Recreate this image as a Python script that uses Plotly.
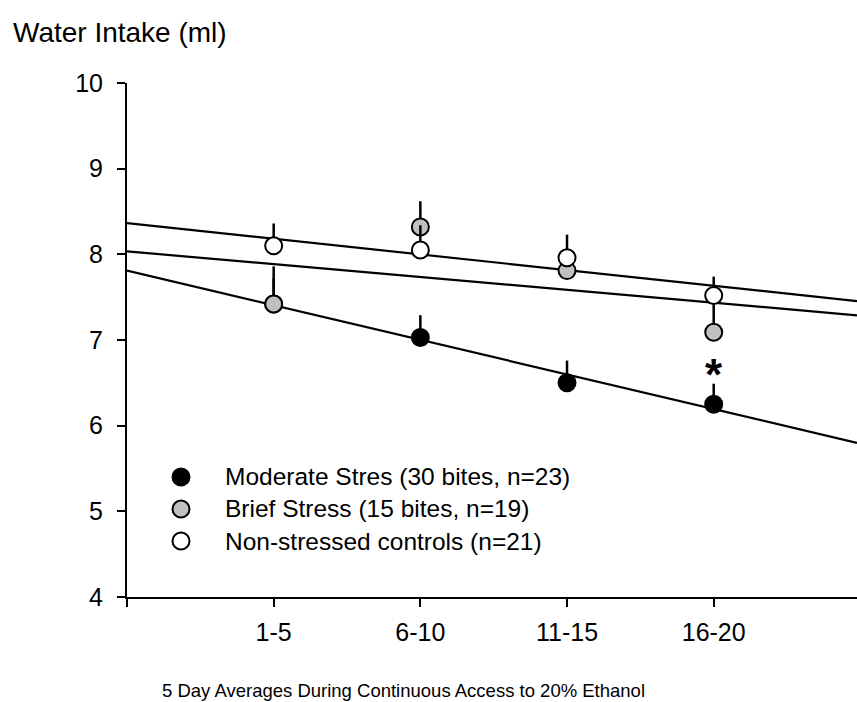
import numpy as np
import plotly.graph_objects as go

categories = ["1-5", "6-10", "11-15", "16-20"]
moderate = [7.42, 7.03, 6.50, 6.25]
moderate_err = [0.30, 0.26, 0.26, 0.24]
brief = [7.42, 8.32, 7.81, 7.09]
brief_err = [0.44, 0.30, 0.20, 0.42]
control = [8.10, 8.05, 7.96, 7.52]
control_err = [0.26, 0.29, 0.27, 0.22]
names = ["Moderate Stres (30 bites, n=23)", "Brief Stress (15 bites, n=19)", "Non-stressed controls (n=21)"]
colors = ["black", "#c0c0c0", "white"]

pos = np.arange(1, len(categories) + 1)
XMAX = 4.977
FONT = "Arial, Liberation Sans, sans-serif"

# plot-area pixel geometry (for paper-coordinate placement of texts)
L, T, W, H = 127, 83, 730, 514
def px(xp):
    return (xp - L) / W
def py(yp):
    return (T + H - yp) / H

fig = go.Figure()
series = list(zip([moderate, brief, control], [moderate_err, brief_err, control_err], colors))

# regression lines
for vals, _, _ in series:
    slope, icpt = np.polyfit(pos, vals, 1)
    xs = np.array([0, XMAX])
    fig.add_trace(go.Scatter(x=xs, y=icpt + slope * xs, mode="lines",
                             line=dict(color="black", width=2.2), showlegend=False, hoverinfo="skip"))

# data points with upward error bars
for vals, err, col in series:
    fig.add_trace(go.Scatter(x=pos, y=vals, mode="markers",
                             marker=dict(size=17, color=col, line=dict(color="black", width=2)),
                             error_y=dict(type="data", symmetric=False, array=err,
                                          arrayminus=[0] * len(err), color="black", thickness=2.5, width=0),
                             showlegend=False))

# legend (manual)
legend_rows = [477, 509, 541]
for nm, col, yr in zip(names, colors, legend_rows):
    fig.add_shape(type="circle", xref="paper", yref="paper", xsizemode="pixel", ysizemode="pixel",
                  xanchor=px(181), yanchor=py(yr), x0=-8.5, x1=8.5, y0=-8.5, y1=8.5,
                  fillcolor=col, line=dict(color="black", width=2))
    fig.add_annotation(x=px(223), y=py(yr), xref="paper", yref="paper", text=nm, showarrow=False,
                       xanchor="left", yanchor="middle", font=dict(size=24.5, color="black", family=FONT))

fig.add_annotation(x=4, y=6.67, xref="x", yref="y", text="<b>*</b>", showarrow=False,
                   font=dict(size=44, color="black", family=FONT), yanchor="middle", yshift=-6)

fig.add_annotation(x=px(11), y=py(33), xref="paper", yref="paper",
                   text="Water Intake (ml)", showarrow=False, xanchor="left", yanchor="middle",
                   font=dict(size=28, color="black", family=FONT))
fig.add_annotation(x=px(403.5), y=py(690), xref="paper", yref="paper",
                   text="5 Day Averages During Continuous Access to 20% Ethanol", showarrow=False,
                   xanchor="center", yanchor="middle", font=dict(size=18.5, color="black", family=FONT))

fig.update_layout(
    width=857, height=702,
    margin=dict(l=L, r=857 - L - W, t=T, b=702 - T - H),
    paper_bgcolor="white", plot_bgcolor="white",
    font=dict(family=FONT, color="black"),
    showlegend=False,
    xaxis=dict(range=[0, XMAX], tickvals=[0] + list(pos), ticktext=[""] + categories,
               showgrid=False, zeroline=False, showline=True, linecolor="black", linewidth=2,
               ticks="outside", ticklen=8, tickwidth=2, tickcolor="black",
               tickfont=dict(size=25, color="black", family=FONT), ticklabelstandoff=4),
    yaxis=dict(range=[4, 10], tickvals=[4, 5, 6, 7, 8, 9, 10],
               showgrid=False, zeroline=False, showline=True, linecolor="black", linewidth=2,
               ticks="outside", ticklen=8, tickwidth=2, tickcolor="black",
               tickfont=dict(size=25, color="black", family=FONT), ticklabelstandoff=9),
)

fig.write_html("out.html")
